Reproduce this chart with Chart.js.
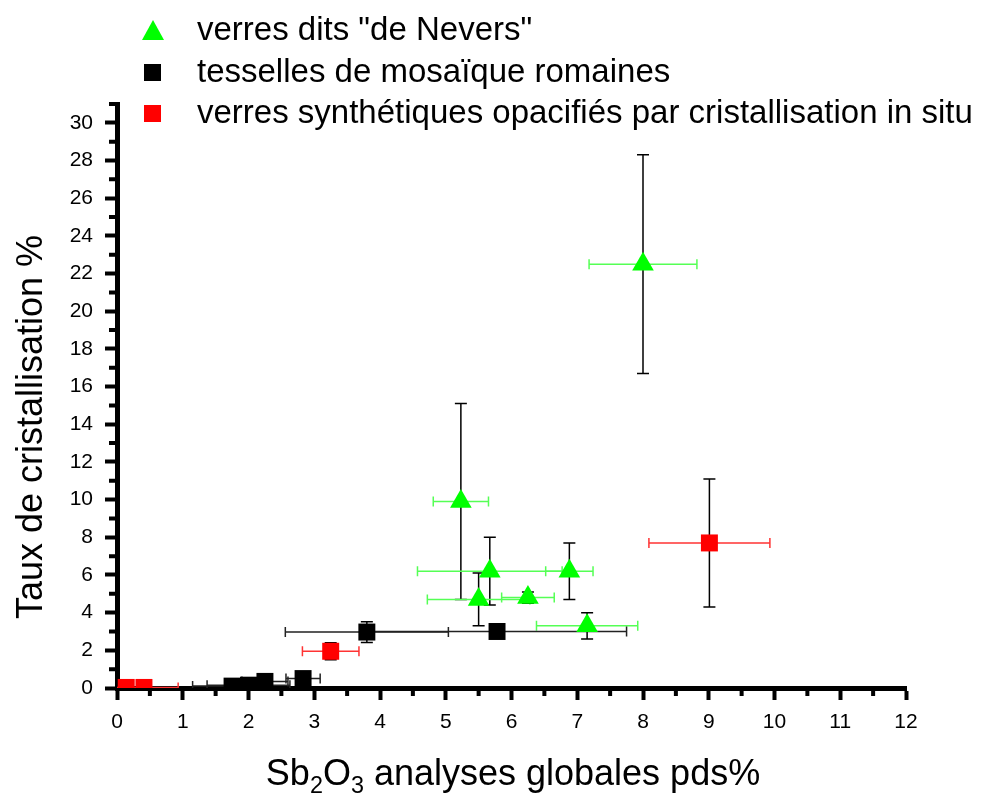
<!DOCTYPE html>
<html>
<head>
<meta charset="utf-8">
<script src="https://cdn.jsdelivr.net/npm/chart.js@4.4.1/dist/chart.umd.min.js"></script>
<style>
  body { margin: 0; background: #fff; }
  #wrap { position: relative; width: 993px; height: 798px; font-family: "Liberation Sans", Arial, sans-serif; color: #000; }
  #chart { position: absolute; left: 0; top: 0; }
  .row { position: absolute; left: 197px; font-size: 33px; line-height: 40px; white-space: nowrap; }
  .tri { position: absolute; width: 0; height: 0; border-left: 11px solid transparent; border-right: 11px solid transparent; border-bottom: 20px solid #00ff00; }
  .sq { position: absolute; width: 17px; height: 17px; }
  #xtitle { position: absolute; left: 0; width: 1026px; top: 753px; text-align: center; font-size: 36px; line-height: 40px; white-space: nowrap; }
  #xtitle sub { font-size: 0.65em; vertical-align: -0.35em; line-height: 0; }
  #ytitle { position: absolute; left: -220px; top: 407px; width: 500px; text-align: center; font-size: 36px; line-height: 40px; transform: rotate(-90deg); white-space: nowrap; }
</style>
</head>
<body>
<div id="wrap">
  <canvas id="chart" width="993" height="798"></canvas>
  <div class="tri" style="left:142px;top:20px"></div>
  <div class="row" style="top:9px">verres dits "de Nevers"</div>
  <div class="sq" style="left:144px;top:64px;background:#000"></div>
  <div class="row" style="top:51px">tesselles de mosaïque romaines</div>
  <div class="sq" style="left:144px;top:105px;background:#ff0000"></div>
  <div class="row" style="top:92px">verres synthétiques opacifiés par cristallisation in situ</div>
  <div id="ytitle">Taux de cristallisation %</div>
  <div id="xtitle">Sb<sub>2</sub>O<sub>3</sub> analyses globales pds%</div>
</div>
<script>
// verres dits "de Nevers"
const neversX    = [8.0, 5.23, 5.67, 6.88, 5.5, 6.25, 7.15];
const neversY    = [22.5, 9.9, 6.2, 6.2, 4.7, 4.8, 3.3];
const neversXErr = [0.82, 0.42, 1.1, 0.36, 0.78, 0.4, 0.77];
const neversYErr = [5.8, 5.2, 1.8, 1.5, 1.4, 0.3, 0.7];

// tesselles de mosaïque romaines
const tessX    = [1.75, 2.0, 2.25, 2.83, 3.8, 5.78];
const tessY    = [0.1, 0.15, 0.35, 0.5, 2.97, 3.0];
const tessXErr = [0.6, 0.63, 0.35, 0.26, 1.24, 1.97];
const tessYErr = [0.1, 0.1, 0.1, 0.25, 0.55, 0.05];

// verres synthétiques opacifiés par cristallisation in situ
const synthX    = [0.14, 0.41, 3.25, 9.01];
const synthY    = [0.03, 0.03, 1.95, 7.7];
const synthXErr = [0.1, 0.52, 0.43, 0.92];
const synthYErr = [0, 0, 0.45, 3.4];

const xTicks = [0, 1, 2, 3, 4, 5, 6, 7, 8, 9, 10, 11, 12];
const yTicks = [0, 2, 4, 6, 8, 10, 12, 14, 16, 18, 20, 22, 24, 26, 28, 30];

const pts = (xs, ys) => xs.map((x, i) => ({ x: x, y: ys[i] }));

const errorBars = {
  id: 'errorBars',
  beforeDatasetsDraw(chart) {
    const { ctx, chartArea, scales: { x, y } } = chart;
    ctx.save();
    ctx.beginPath();
    ctx.rect(chartArea.left, chartArea.top, chartArea.right - chartArea.left, chartArea.bottom - chartArea.top);
    ctx.clip();
    ctx.lineWidth = 1.5;
    chart.data.datasets.forEach(ds => {
      ds.data.forEach((p, j) => {
        const px = x.getPixelForValue(p.x);
        const py = y.getPixelForValue(p.y);
        const xe = ds.xErr[j], ye = ds.yErr[j];
        if (xe) {
          const l = x.getPixelForValue(p.x - xe), r = x.getPixelForValue(p.x + xe);
          ctx.strokeStyle = ds.xErrColor;
          ctx.beginPath();
          ctx.moveTo(l, py); ctx.lineTo(r, py);
          ctx.moveTo(l, py - 5); ctx.lineTo(l, py + 5);
          ctx.moveTo(r, py - 5); ctx.lineTo(r, py + 5);
          ctx.stroke();
        }
        if (ye) {
          const t = y.getPixelForValue(p.y + ye), b = y.getPixelForValue(p.y - ye);
          ctx.strokeStyle = '#000';
          ctx.beginPath();
          ctx.moveTo(px, t); ctx.lineTo(px, b);
          ctx.moveTo(px - 6, t); ctx.lineTo(px + 6, t);
          ctx.moveTo(px - 6, b); ctx.lineTo(px + 6, b);
          ctx.stroke();
        }
      });
    });
    ctx.restore();
  }
};

// minor ticks, between the labelled ones
const minorTicks = {
  id: 'minorTicks',
  afterDraw(chart) {
    const { ctx, chartArea, scales: { x, y } } = chart;
    ctx.save();
    ctx.strokeStyle = '#000';
    ctx.lineWidth = 4;
    ctx.beginPath();
    for (let v = 0.5; v < 12; v += 1) {
      const px = x.getPixelForValue(v);
      ctx.moveTo(px, chartArea.bottom); ctx.lineTo(px, chartArea.bottom + 8);
    }
    for (let v = 1; v <= 31; v += 2) {
      const py = y.getPixelForValue(v);
      ctx.moveTo(chartArea.left, py); ctx.lineTo(chartArea.left - 8, py);
    }
    ctx.stroke();
    ctx.restore();
  }
};

const axisGrid = { display: true, drawOnChartArea: false, drawTicks: true, tickLength: 12, tickWidth: 4, tickColor: '#000' };
const tickFont = { family: '"Liberation Sans", Arial, sans-serif', size: 21 };

new Chart(document.getElementById('chart'), {
  type: 'scatter',
  data: {
    datasets: [{
      label: 'verres dits "de Nevers"',
      data: pts(neversX, neversY),
      xErr: neversXErr, yErr: neversYErr, xErrColor: '#55ff55',
      pointStyle: 'triangle', pointRadius: 12.5,
      backgroundColor: '#00ff00', borderColor: '#00ff00', borderWidth: 0,
      clip: 0
    }, {
      label: 'tesselles de mosaïque romaines',
      data: pts(tessX, tessY),
      xErr: tessXErr, yErr: tessYErr, xErrColor: '#222',
      pointStyle: 'rect', pointRadius: 12,
      backgroundColor: '#000', borderColor: '#000', borderWidth: 0,
      clip: 0
    }, {
      label: 'verres synthétiques opacifiés par cristallisation in situ',
      data: pts(synthX, synthY),
      xErr: synthXErr, yErr: synthYErr, xErrColor: '#ff3333',
      pointStyle: 'rect', pointRadius: 12,
      backgroundColor: '#ff0000', borderColor: '#ff0000', borderWidth: 0,
      clip: 0
    }]
  },
  options: {
    responsive: false,
    animation: false,
    layout: { padding: { top: 104, right: 87, left: 0, bottom: 0 } },
    plugins: { legend: { display: false }, tooltip: { enabled: false } },
    scales: {
      x: {
        type: 'linear', min: 0, max: 12,
        afterFit: s => { s.height = 110; },
        afterBuildTicks: s => { s.ticks = xTicks.map(v => ({ value: v })); },
        ticks: { color: '#000', font: tickFont, padding: 10, maxRotation: 0 },
        grid: axisGrid,
        border: { display: true, color: '#000', width: 5 }
      },
      y: {
        type: 'linear', min: 0, max: 31,
        afterFit: s => { s.width = 117; },
        afterBuildTicks: s => { s.ticks = yTicks.map(v => ({ value: v })); },
        ticks: { color: '#000', font: tickFont, padding: 12 },
        grid: axisGrid,
        border: { display: true, color: '#000', width: 5 }
      }
    }
  },
  plugins: [errorBars, minorTicks]
});
</script>
</body>
</html>
